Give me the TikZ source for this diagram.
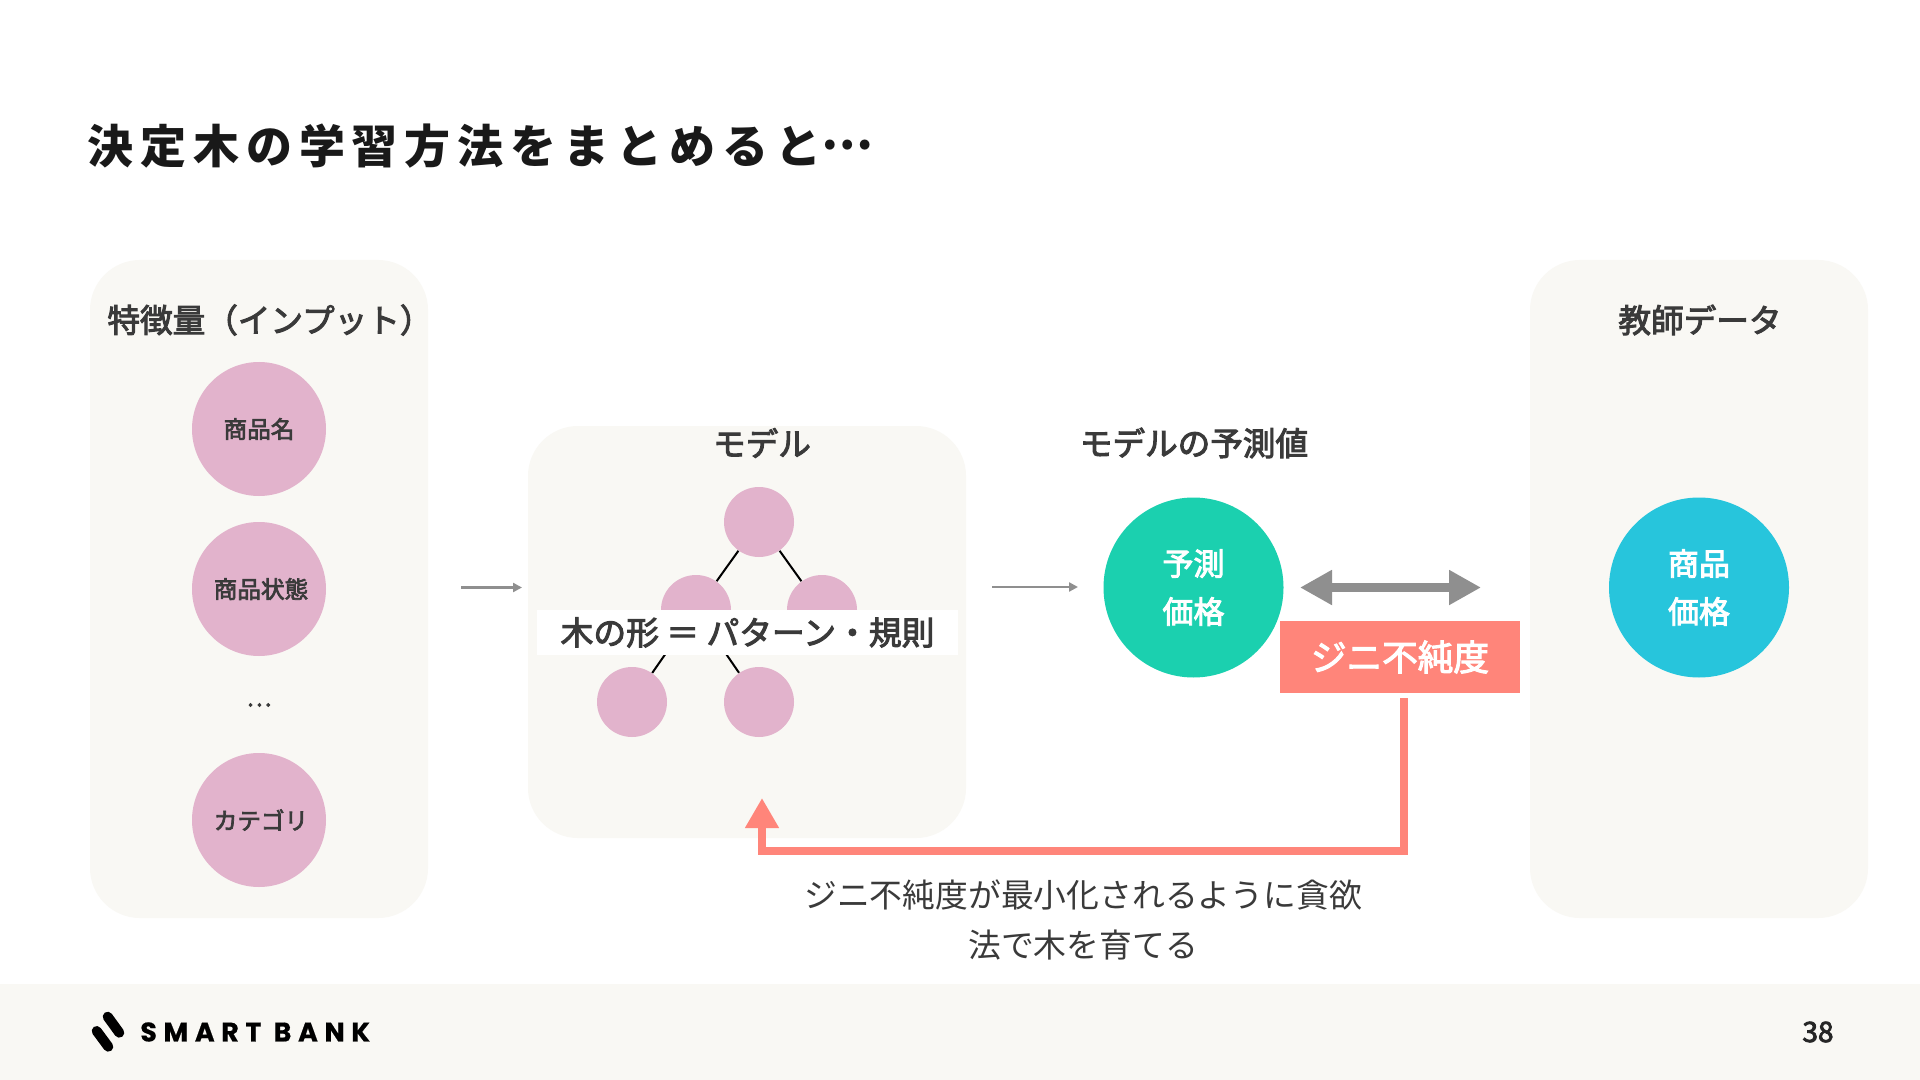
\documentclass[tikz,border=0pt]{standalone}
\usepackage{fontspec}
\usetikzlibrary{arrows.meta}
\setmainfont{Noto Sans CJK JP}
\newfontfamily\jp{Noto Sans CJK JP}
\newfontfamily\jpm[FakeBold=3]{Noto Sans CJK JP}
\newfontfamily\jptitle[LetterSpace=15]{Noto Sans CJK JP}
\newfontfamily\lat[LetterSpace=25,FakeBold=0.6]{Poppins}
\definecolor{panelc}{HTML}{F9F8F4}
\definecolor{pinkc}{HTML}{E2B3CC}
\definecolor{greenc}{HTML}{1BD0AF}
\definecolor{bluec}{HTML}{27C5DC}
\definecolor{redc}{HTML}{FF857A}
\definecolor{grayc}{HTML}{8F8F8F}
\definecolor{darkc}{HTML}{3A3A3A}
\tikzset{
  panel/.style={draw=none,fill=panelc,rounded corners=25pt,inner sep=0pt},
  feat/.style={circle,fill=pinkc,minimum size=134*0.5pt,inner sep=0pt,text=darkc,font=\jpm\fontsize{11.8}{14}\selectfont},
  leaf/.style={circle,fill=pinkc,minimum size=70*0.5pt,inner sep=0pt},
  big/.style={circle,minimum size=180*0.5pt,inner sep=0pt,text=white,align=center,font=\jpm\fontsize{15.5}{24}\selectfont},
  head/.style={text=darkc,inner sep=0pt,font=\jpm\fontsize{16.3}{18}\selectfont},
  thinarrow/.style={draw=grayc,line width=1.2pt,-{Triangle[length=4.5pt,width=4.5pt]}},
  treeline/.style={draw=black,line width=1pt}
}
\begin{document}
\begin{tikzpicture}[x=0.5pt,y=-0.5pt]
\useasboundingbox (0,0) rectangle (1920,1080);
\fill[white] (0,0) rectangle (1920,1080);
\fill[panelc] (0,984) rectangle (1920,1080);
% title
\node[anchor=west,inner sep=0pt,text=black!90] (title) at (87,146) {\jptitle\bfseries\fontsize{23}{26}\selectfont 決定木の学習方法をまとめると\raisebox{.3em}{\addfontfeature{LetterSpace=4}…}};
% panels
\node[panel,minimum width=338*0.5pt,minimum height=658*0.5pt] (pleft) at (259,589) {};
\node[panel,minimum width=438*0.5pt,minimum height=412*0.5pt] (pmodel) at (747,632) {};
\node[panel,minimum width=338*0.5pt,minimum height=658*0.5pt] (pright) at (1699,589) {};
% left
\node[head] (hleft) at (270,320) {特徴量（インプット）};
\node[feat] (f1) at (259,429) {商品名};
\node[feat] (f2) at (259,589) {\kern2pt 商品状態};
\node[text=darkc,inner sep=0pt,font=\jpm\fontsize{11.8}{14}\selectfont] (fdots) at (259,705) {…};
\node[feat] (f3) at (259,820) {\kern2pt カテゴリ};
% model
\node[head] (hmodel) at (762,443) {モデル};
\node[leaf] (t1) at (759,522) {};
\node[leaf] (t2) at (696,610) {};
\node[leaf] (t3) at (822,610) {};
\node[leaf] (t4) at (632,702) {};
\node[leaf] (t5) at (759,702) {};
\draw[treeline] (t1) -- (t2);
\draw[treeline] (t1) -- (t3);
\draw[treeline] (t2) -- (t4);
\draw[treeline] (t2) -- (t5);
\node[fill=white,minimum width=421*0.5pt,minimum height=45*0.5pt,inner sep=0pt,text=darkc,font=\jpm\fontsize{16.4}{18}\selectfont] (rule) at (747.5,632.5) {木の形 ＝ パターン・規則};
% arrows between panels
\coordinate (a1s) at (461,587.5);
\coordinate (a1e) at (522,587.5);
\coordinate (a2s) at (992,587);
\coordinate (a2e) at (1078,587);
\draw[thinarrow] (a1s) -- (a1e);
\draw[thinarrow] (a2s) -- (a2e);
% prediction
\node[head] (hpred) at (1194,443) {モデルの予測値};
\node[big,fill=greenc] (pred) at (1193.5,587.5) {予測\\価格};
% teacher
\node[head] (hteach) at (1700,320) {教師データ};
\node[big,fill=bluec] (teach) at (1699,587.5) {商品\\価格};
% double arrow
\coordinate (das) at (1300,587.5);
\coordinate (dae) at (1481,587.5);
\draw[draw=grayc,line width=4.5pt,{Triangle[length=16pt,width=16.5pt]}-{Triangle[length=16pt,width=16.5pt]}] (das) -- (dae);
% gini
\node[fill=redc,minimum width=240*0.5pt,minimum height=72*0.5pt,inner sep=0pt,text=white,font=\jpm\fontsize{17.8}{20}\selectfont] (gini) at (1400,657) {ジニ不純度};
\coordinate (rs) at (1403.5,698);
\coordinate (rc1) at (1403.5,851);
\coordinate (rc2) at (762,851);
\coordinate (rt) at (762,798);
\draw[draw=redc,line width=4pt,miter limit=10,-{Triangle[length=15pt,width=16pt]}] (rs) -- (rc1) -- (rc2) -- (rt);
\node[text=darkc,align=center,inner sep=0pt,font=\jp\fontsize{16.4}{25}\selectfont] (cap) at (1083,920) {ジニ不純度が最小化されるように貪欲\\法で木を育てる};
% footer
\draw[black,line width=5pt,line cap=round] (107.7,1016.7) -- (119.3,1032.7);
\draw[black,line width=5pt,line cap=round] (96.7,1031) -- (108.3,1046.7);
\node[anchor=west,inner sep=0pt,text=black,font=\lat\bfseries\fontsize{13.4}{15}\selectfont] (logo) at (140,1032) {SMART BANK};
\node[inner sep=0pt,text=black!85,font=\jpm\fontsize{14}{16}\selectfont] (page) at (1818,1032) {38};
\end{tikzpicture}
\end{document}
